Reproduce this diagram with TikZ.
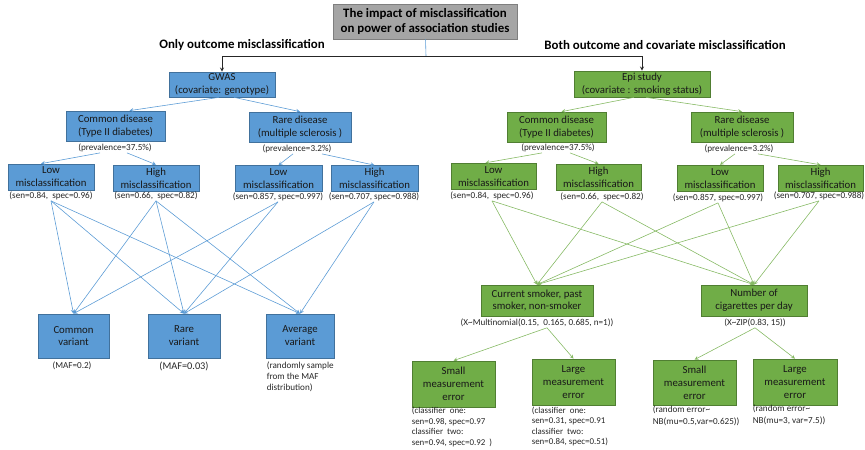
\documentclass[tikz,border=0pt]{standalone}
\usepackage{fontspec}
\setmainfont{Carlito}
\usetikzlibrary{shapes.geometric, arrows, calc}
\definecolor{bluefill}{HTML}{5B9BD5}
\definecolor{blueedge}{HTML}{41719C}
\definecolor{greenfill}{HTML}{70AD47}
\definecolor{greenedge}{HTML}{507E32}
\definecolor{greyfill}{HTML}{A5A5A5}
\definecolor{greyedge}{HTML}{7F7F7F}
\tikzstyle{bluebox} = [rectangle, minimum width=2.58cm, minimum height=0.78cm, inner sep=0pt, align=center, draw=blueedge, line width=0.6pt, fill=bluefill, text=black!90, font=\fontsize{9.2}{11}\selectfont]
\tikzstyle{greenbox} = [rectangle, minimum width=2.55cm, minimum height=0.8cm, inner sep=0pt, align=center, draw=greenedge, line width=0.6pt, fill=greenfill, text=black!90, font=\fontsize{9.2}{11}\selectfont]
\tikzstyle{titlebox} = [rectangle, minimum width=5.52cm, minimum height=1.05cm, inner sep=0pt, align=center, draw=greyedge, line width=0.6pt, fill=greyfill, font=\fontsize{11}{12.5}\selectfont\bfseries]
\tikzstyle{note} = [inner sep=0.5pt, text=black!85, font=\fontsize{7.8}{9.6}\selectfont]
\tikzstyle{block} = [note, anchor=north west, align=left, font=\fontsize{7.6}{8.9}\selectfont]
\tikzstyle{heading} = [inner sep=0pt, font=\fontsize{11}{12}\selectfont\bfseries]
\tikzstyle{bluearrow} = [->,>=stealth, line width=0.5pt, draw=bluefill]
\tikzstyle{greenarrow} = [->,>=stealth, line width=0.5pt, draw=greenfill!85]
\tikzstyle{arrow} = [->,>=stealth, line width=0.6pt, draw=black!85]

\begin{document}
\begin{tikzpicture}[x=0.03cm, y=-0.03cm]
\useasboundingbox (0,0) rectangle (865,450);

% top
\node at (425,21.5) (title) [titlebox] {The impact of misclassification \\ on power of association studies};
\coordinate (hub) at (426,56);
\node at (242,45) (onlyhead) [heading] {Only outcome misclassification};
\node at (665,45) (bothhead) [heading] {Both outcome and covariate misclassification};

% GWAS branch
\node at (222,84.5) (gwas) [bluebox, minimum width=3.18cm, minimum height=0.75cm] {GWAS \\ (covariate: genotype)};
\node at (115.5,126) (gcommon) [bluebox, minimum width=2.97cm, minimum height=0.9cm] {Common disease \\ (Type II diabetes)};
\node at (300,127) (grare) [bluebox, minimum width=3.06cm, minimum height=0.9cm] {Rare disease \\ (multiple sclerosis )};
\node at (115,148) (gcommonp) [note] {(prevalence=37.5\%)};
\node at (297,149) (grarep) [note] {(prevalence=3.2\%)};

\node at (51,177) (glowc) [bluebox] {Low \\ misclassification};
\node at (156,178) (ghighc) [bluebox] {High \\ misclassification};
\node at (278.5,178.5) (glowr) [bluebox, minimum width=2.61cm] {Low \\ misclassification};
\node at (374.5,178.5) (ghighr) [bluebox, minimum width=2.61cm] {High \\ misclassification};
\node at (51,196) (glowcs) [note] {(sen=0.84,\ \ spec=0.96)};
\node at (156,196) (ghighcs) [note] {(sen=0.66,\ \ spec=0.82)};
\node at (278,197) (glowrs) [note] {(sen=0.857, spec=0.997)};
\node at (374,197) (ghighrs) [note] {(sen=0.707, spec=0.988)};

\node at (73.5,336) (vcommon) [bluebox, minimum width=2.13cm, minimum height=1.32cm] {Common \\ variant};
\node at (184,336) (vrare) [bluebox, minimum width=2.16cm, minimum height=1.32cm] {Rare \\ variant};
\node at (300,336) (vavg) [bluebox, minimum width=2.04cm, minimum height=1.32cm] {Average \\ variant};
\node at (72,366) (vcommonm) [note] {(MAF=0.2)};
\node at (184,366) (vrarem) [note, font=\fontsize{8.8}{10}\selectfont] {(MAF=0.03)};
\node at (266,361) (vavgm) [block, font=\fontsize{7.8}{9.6}\selectfont] {(randomly sample \\ from the MAF \\ distribution)};

% Epi branch
\node at (642,84) (epi) [greenbox, minimum width=4.08cm, minimum height=0.78cm] {Epi study \\ (covariate : smoking status)};
\node at (556.5,127) (ecommon) [greenbox, minimum width=2.97cm, minimum height=0.9cm] {Common disease \\ (Type II diabetes)};
\node at (742,127) (erare) [greenbox, minimum width=3.06cm, minimum height=0.9cm] {Rare disease \\ (multiple sclerosis )};
\node at (558,148) (ecommonp) [note] {(prevalence=37.5\%)};
\node at (739,149) (erarep) [note] {(prevalence=3.2\%)};

\node at (493.5,176.5) (elowc) [greenbox] {Low \\ misclassification};
\node at (598.5,177.5) (ehighc) [greenbox] {High \\ misclassification};
\node at (720,178.5) (elowr) [greenbox, minimum width=2.58cm] {Low \\ misclassification};
\node at (820.5,178.5) (ehighr) [greenbox] {High \\ misclassification};
\node at (492,196) (elowcs) [note] {(sen=0.84,\ \ spec=0.96)};
\node at (602,197) (ehighcs) [note] {(sen=0.66,\ \ spec=0.82)};
\node at (718,198) (elowrs) [note] {(sen=0.857, spec=0.997)};
\node at (819,196) (ehighrs) [note] {(sen=0.707, spec=0.988)};

\node at (537,300.5) (smoker) [greenbox, minimum width=3.36cm, minimum height=0.93cm] {Current smoker, past \\ smoker, non-smoker};
\node at (754,300.5) (cigs) [greenbox, minimum width=3.18cm, minimum height=0.93cm] {Number of \\ cigarettes per day};
\node at (537,323) (smokerd) [note] {(X\textasciitilde Multinomial(0.15,\ \ 0.165, 0.685, n=1))};
\node at (755,323) (cigsd) [note] {(X\textasciitilde ZIP(0.83, 15))};

\node at (453.5,384) (ssmall) [greenbox, minimum width=2.49cm, minimum height=1.38cm] {Small \\ measurement \\ error};
\node at (573.5,382) (slarge) [greenbox, minimum width=2.49cm, minimum height=1.38cm] {Large \\ measurement \\ error};
\node at (694.5,382.5) (csmall) [greenbox, minimum width=2.49cm, minimum height=1.35cm] {Small \\ measurement \\ error};
\node at (795,382) (clarge) [greenbox, minimum width=2.52cm, minimum height=1.38cm] {Large \\ measurement \\ error};
\node at (411,406.5) (ssmalln) [block] {(classifier\ \ one: \\ sen=0.98, spec=0.97 \\ classifier\ \ two: \\ sen=0.94, spec=0.92\ \ )};
\node at (531,406) (slargen) [block] {(classifier\ \ one: \\ sen=0.31, spec=0.91 \\ classifier\ \ two: \\ sen=0.84, spec=0.51)};
\node at (652,405) (csmalln) [block, font=\fontsize{7.8}{10.5}\selectfont] {(random error\textasciitilde \\ NB(mu=0.5,var=0.625))};
\node at (752,404) (clargen) [block, font=\fontsize{7.8}{10.5}\selectfont] {(random error\textasciitilde \\ NB(mu=3, var=7.5))};

% connectors
\draw[line width=0.5pt, draw=bluefill] (title) -- (hub);
\draw[arrow] (hub) -| (gwas);
\draw[arrow] (hub) -| (epi);

\draw[bluearrow] ($(gwas.south)+(-3,0)$) -- ($(gcommon.north)+(14,0)$);
\draw[bluearrow] ($(gwas.south)+(12,0)$) -- (grare.north);
\draw[bluearrow] ($(gcommonp.south)+(-15,0)$) -- ($(glowc.north)+(-10,0)$);
\draw[bluearrow] ($(gcommonp.south)+(12,0)$) -- (ghighc.north);
\draw[bluearrow] ($(grarep.south)+(-4,0)$) -- (glowr.north);
\draw[bluearrow] ($(grarep.south)+(25,0)$) -- (ghighr.north);
\foreach \src in {glowcs, ghighcs}
  \foreach \dst in {vcommon, vrare, vavg}
    \draw[bluearrow] (\src.south) -- (\dst.north);
\draw[bluearrow] (glowrs.south) -- (vcommon.north);
\draw[bluearrow] (glowrs.south) -- (vrare.north);
\draw[bluearrow] (ghighrs.south) -- (vrare.north);
\draw[bluearrow] (ghighrs.south) -- (vavg.north);

\draw[greenarrow] ($(epi.south)+(-8,0)$) -- ($(ecommon.north)+(5,0)$);
\draw[greenarrow] ($(epi.south)+(4,0)$) -- (erare.north);
\draw[greenarrow] ($(ecommonp.south)+(-16,0)$) -- ($(elowc.north)+(-8,0)$);
\draw[greenarrow] ($(ecommonp.south)+(12,0)$) -- (ehighc.north);
\draw[greenarrow] ($(erarep.south)+(-4,0)$) -- (elowr.north);
\draw[greenarrow] ($(erarep.south)+(19,0)$) -- (ehighr.north);
\foreach \src in {elowcs, ehighcs, elowrs, ehighrs}
  \foreach \dst in {smoker, cigs}
    \draw[greenarrow] (\src.south) -- (\dst.north);
\draw[greenarrow] ($(smokerd.south)+(10,0)$) -- (ssmall.north);
\draw[greenarrow] ($(smokerd.south)+(10,0)$) -- (slarge.north);
\draw[greenarrow] (cigsd.south) -- (csmall.north);
\draw[greenarrow] (cigsd.south) -- (clarge.north);

\end{tikzpicture}
\end{document}
